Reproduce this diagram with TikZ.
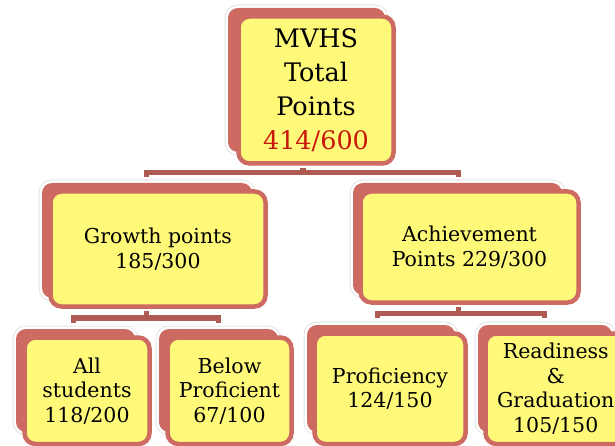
\documentclass[tikz,border=0pt]{standalone}
\usepackage{fontspec}
\setmainfont{DejaVu Serif}
\definecolor{salmon}{RGB}{205,106,97}
\definecolor{busred}{RGB}{176,90,84}
\definecolor{boxyellow}{RGB}{255,249,122}
\definecolor{numred}{RGB}{200,22,12}
\definecolor{glow}{RGB}{228,228,228}
\tikzset{
  backbox/.style={fill=salmon, rounded corners=10pt,
    preaction={draw=glow, line width=7pt},
    preaction={draw=white, line width=5pt}},
  frontbox/.style={rectangle, rounded corners=11pt, draw=salmon, line width=4.5pt,
    fill=boxyellow, inner sep=0pt, align=center, text=black},
  bigtext/.style={font=\fontsize{25.5}{34}\selectfont},
  smalltext/.style={font=\fontsize{20.5}{24.5}\selectfont},
  bus/.style={draw=busred, line width=5.5pt, line join=miter, line cap=butt}
}
\begin{document}
\begin{tikzpicture}[x=1pt,y=-1pt]
\useasboundingbox (0,0) rectangle (615,446);
% shadow boxes
\path[backbox] (228,8) rectangle (385,152);
\path[backbox] (42,183) rectangle (252,298);
\path[backbox] (353,183) rectangle (562,295);
\path[backbox] (16,329) rectangle (135,432);
\path[backbox] (159,329) rectangle (278,432);
\path[backbox] (307,325) rectangle (455,432);
\path[backbox] (478,325) rectangle (612,432);
% front boxes
\node[frontbox, bigtext, minimum width=155pt, minimum height=147pt] (top) at (316,90)
  {MVHS\\Total\\Points\\\textcolor{numred}{414/600}};
\node[frontbox, smalltext, minimum width=215pt, minimum height=115pt] (growth) at (158,249)
  {Growth points\\185/300};
\node[frontbox, smalltext, minimum width=218pt, minimum height=111pt] (achieve) at (469.5,247)
  {Achievement\\Points 229/300};
\node[frontbox, smalltext, minimum width=125pt, minimum height=106.5pt] (all) at (87,390.75)
  {All\\students\\118/200};
\node[frontbox, smalltext, minimum width=124pt, minimum height=106.5pt] (below) at (229.5,390.75)
  {Below\\Proficient\\67/100};
\node[frontbox, smalltext, minimum width=151pt, minimum height=110.5pt] (prof) at (390,388.75)
  {Proficiency\\124/150};
\node[frontbox, smalltext, minimum width=140.5pt, minimum height=110.5pt] (ready) at (555.75,388.75)
  {Readiness\\\&\\Graduation\\105/150};
% connectors
\coordinate (tj) at (303,172.5);
\coordinate (tjL) at (146.5,172.5);
\coordinate (tjR) at (458.5,172.5);
\draw[bus] (tj |- top.south) ++(0,2.5) -- (tj);
\draw[bus] (tjL) ++(0,4.5) -- (tjL) -- (tjR) -- ++(0,4.5);
\coordinate (gj) at (146.5,318);
\coordinate (gjL) at (73.5,318);
\coordinate (gjR) at (218.5,318);
\draw[bus] (gj |- growth.south) ++(0,2.5) -- (gj);
\draw[bus] (gjL) ++(0,5) -- (gjL) -- (gjR) -- ++(0,5);
\coordinate (aj) at (458.5,313.5);
\coordinate (ajL) at (377.5,313.5);
\coordinate (ajR) at (544.5,313.5);
\draw[bus] (aj |- achieve.south) ++(0,2.5) -- (aj);
\draw[bus] (ajL) ++(0,4.5) -- (ajL) -- (ajR) -- ++(0,4.5);
\end{tikzpicture}
\end{document}
